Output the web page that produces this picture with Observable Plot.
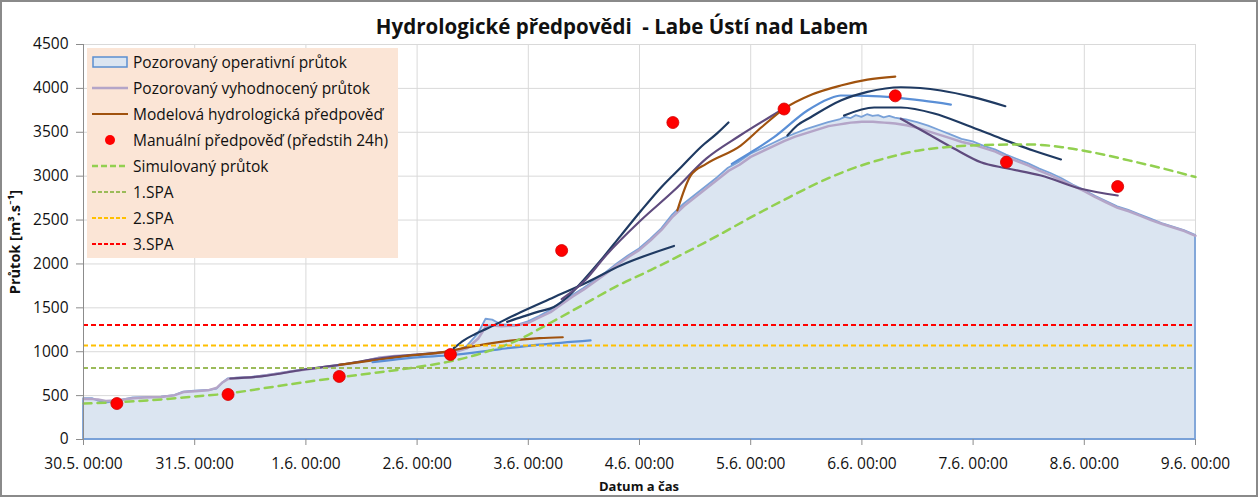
<!DOCTYPE html>
<html><head><meta charset="utf-8">
<script src="https://cdn.jsdelivr.net/npm/d3@7"></script>
<script src="https://cdn.jsdelivr.net/npm/@observablehq/plot@0.6"></script>
<style>
body{margin:0;background:#fff;font-family:"Open Sans",Lato,sans-serif;color:#111;}
#wrap{position:relative;width:1258px;height:497px;overflow:hidden;background:#fff;}
#chart{position:absolute;left:0;top:0;}
#frame{position:absolute;left:0;top:0;width:1258px;height:497px;box-sizing:border-box;border:2px solid #8a8a8a;pointer-events:none;}
#title{position:absolute;left:0;width:1244px;top:12px;text-align:center;font-weight:bold;font-size:20.5px;}
#ylab{position:absolute;left:14px;top:242px;transform:translate(-50%,-50%) rotate(-90deg);font-weight:bold;font-size:14.5px;white-space:nowrap;}
#xlab{position:absolute;left:639px;top:477px;transform:translateX(-50%);font-weight:bold;font-size:13px;white-space:nowrap;}
#legend{position:absolute;left:87px;top:48px;width:311px;height:210px;background:#fbe5d6;}
.li{position:absolute;left:4px;height:26px;display:flex;align-items:center;font-size:15.5px;white-space:nowrap;}
.li svg{margin-right:4px;}
</style></head>
<body>
<div id="wrap">
  <div id="chart"></div>
  <div id="title">Hydrologické předpovědi&nbsp; - Labe Ústí nad Labem</div>
  <div id="ylab">Průtok [m³.s⁻¹]</div>
  <div id="xlab">Datum a čas</div>
  <div id="legend"></div>
  <div id="frame"></div>
</div>
<script>
// ---------- data (x = days since 30.5. 00:00) ----------
const xLabels = ["30.5. 00:00","31.5. 00:00","1.6. 00:00","2.6. 00:00","3.6. 00:00","4.6. 00:00","5.6. 00:00","6.6. 00:00","7.6. 00:00","8.6. 00:00","9.6. 00:00"];
const xTicks = [0,1,2,3,4,5,6,7,8,9,10];
const yTicks = [0,500,1000,1500,2000,2500,3000,3500,4000,4500];

const obsDays = [0,0.08,0.13,0.2,0.28,0.36,0.45,0.55,0.7,0.82,0.9,1.0,1.12,1.2,1.25,1.3,1.38,1.5,1.7,1.9,2.1,2.3,2.5,2.65,2.8,3.0,3.2,3.35,3.45,3.55,3.62,3.68,3.76,3.9,4.0,4.1,4.2,4.3,4.4,4.5,4.6,4.7,4.8,4.9,5.0,5.1,5.2,5.3,5.4,5.5,5.6,5.7,5.8,5.9,6.0,6.1,6.2,6.3,6.4,6.5,6.6,6.7,6.8,6.85,6.9,6.95,7.0,7.05,7.1,7.15,7.2,7.25,7.3,7.4,7.5,7.6,7.7,7.8,7.9,8.0,8.1,8.2,8.3,8.4,8.5,8.6,8.7,8.8,8.9,9.0,9.1,9.2,9.3,9.4,9.5,9.6,9.7,9.8,9.9,10.0];
const obsOperative = [465,465,440,415,430,450,475,478,482,500,540,552,558,575,640,690,700,705,740,780,810,845,880,925,945,955,975,995,1060,1200,1370,1360,1305,1300,1340,1400,1470,1560,1640,1720,1810,1900,2000,2090,2170,2280,2400,2560,2680,2780,2880,2980,3090,3160,3250,3310,3370,3430,3480,3530,3570,3610,3640,3670,3655,3690,3670,3700,3680,3690,3665,3680,3660,3640,3610,3570,3520,3470,3420,3390,3340,3300,3240,3190,3140,3080,3030,2970,2900,2840,2770,2710,2650,2610,2560,2510,2460,2420,2380,2325];
const obsEvaluated = [460,460,455,440,445,455,470,478,485,505,540,550,560,590,650,690,700,705,740,780,815,850,885,930,950,965,985,1000,1040,1150,1290,1300,1290,1300,1330,1390,1450,1540,1630,1710,1800,1890,1990,2080,2160,2270,2390,2540,2660,2760,2860,2960,3060,3130,3220,3280,3340,3400,3450,3490,3530,3570,3590,3600,3610,3615,3620,3620,3620,3615,3610,3605,3600,3580,3550,3510,3470,3430,3390,3360,3320,3280,3220,3170,3120,3060,3010,2950,2890,2830,2760,2700,2640,2600,2550,2500,2455,2415,2375,2320];

const simDays = [0,0.3,0.7,1.0,1.3,1.6,2.0,2.5,3.0,3.3,3.6,3.9,4.2,4.5,4.8,5.1,5.4,5.7,6.0,6.3,6.6,6.9,7.2,7.5,7.8,8.1,8.5,8.8,9.1,9.4,9.7,10.0];
const simValues = [410,425,456,490,524,580,655,740,825,890,990,1130,1330,1540,1750,1930,2120,2320,2530,2730,2920,3080,3200,3290,3335,3355,3362,3330,3265,3180,3090,2990];

const manualDays = [0.3,1.3,2.3,3.3,4.3,5.3,6.3,7.3,8.3,9.3];
const manualValues = [410,513,718,968,2153,3611,3765,3915,3160,2882];

const spaLevels = [815,1070,1305];

// model forecasts [day, value]
const fcPurple1 = [[1.32,695],[1.6,720],[2.0,800],[2.3,850],[2.7,930],[3.0,968],[3.27,1000]];
const fcBrown1  = [[2.3,850],[2.6,900],[2.9,950],[3.2,990],[3.5,1060],[3.8,1120],[4.1,1155],[4.31,1165]];
const fcBlue1   = [[2.6,880],[3.0,935],[3.3,960],[3.75,1030],[4.1,1080],[4.56,1130]];
const fcNavyA   = [[3.33,1040],[3.42,1130],[3.52,1200],[3.63,1265],[3.93,1450],[4.23,1621],[4.53,1792],[4.83,1982],[5.31,2205]];
const fcNavyB   = [[3.81,1340],[3.95,1400],[4.1,1460],[4.23,1510],[4.35,1621],[4.5,1820],[4.65,2039],[4.83,2320],[5.01,2600],[5.2,2880],[5.38,3110],[5.55,3330],[5.7,3490],[5.8,3611]];
const fcPurple2 = [[4.3,1600],[4.5,1800],[4.7,2100],[5.01,2495],[5.31,2836],[5.6,3200],[5.9,3460],[6.27,3748]];
const fcBrown2  = [[5.34,2609],[5.46,3007],[5.6,3140],[5.91,3349],[6.1,3560],[6.3,3767],[6.55,3930],[6.81,4033],[7.05,4100],[7.3,4135]];
const fcBlue2   = [[5.83,3140],[6.0,3270],[6.21,3444],[6.51,3748],[6.7,3880],[6.81,3919],[7.05,3915],[7.3,3895],[7.55,3860],[7.8,3816]];
const fcNavyC   = [[6.33,3463],[6.42,3580],[6.54,3672],[6.81,3862],[7.05,3960],[7.35,4013],[7.71,3976],[8.0,3900],[8.29,3797]];
const fcNavyD   = [[6.84,3691],[7.11,3782],[7.35,3782],[7.65,3714],[7.95,3577],[8.25,3429],[8.54,3292],[8.79,3190]];
const fcPurple3 = [[7.35,3655],[7.62,3463],[7.85,3300],[8.07,3159],[8.3,3090],[8.61,3008],[8.97,2856],[9.3,2780]];

// ---------- styles ----------
const C = {
  areaFill:"#dbe5f1", areaStroke:"#79a1d8", evaluated:"#b4a5c8",
  navy:"#1f3a62", purple:"#5f4b7e", brown:"#a0520e", blue:"#5a8fd6",
  manual:"#ff0000", sim:"#92d050", spa1:"#9bbb59", spa2:"#ffc000", spa3:"#ff0000", grid:"#d9d9d9", axis:"#8c8c8c"
};
const forecasts = [
  [fcPurple1,C.purple],[fcBrown1,C.brown],[fcBlue1,C.blue],
  [fcNavyA,C.navy],[fcNavyB,C.navy],[fcPurple2,C.purple],[fcBrown2,C.brown],
  [fcBlue2,C.blue],[fcNavyC,C.navy],[fcNavyD,C.navy],[fcPurple3,C.purple]
];

const obs = obsDays.map((d,i)=>({d, op:obsOperative[i], ev:obsEvaluated[i]}));
const sim = simDays.map((d,i)=>({d, v:simValues[i]}));
const manual = manualDays.map((d,i)=>({d, v:manualValues[i]}));
const spaColors = [C.spa1,C.spa2,C.spa3];

const marks = [
  Plot.gridY(yTicks,{stroke:C.grid,strokeOpacity:1}),
  Plot.gridX(xTicks,{stroke:C.grid,strokeOpacity:1}),
  Plot.areaY(obs,{x:"d",y:"op",fill:C.areaFill,stroke:C.areaStroke,strokeWidth:1.8,curve:"linear"}),
  Plot.line(obs,{x:"d",y:"ev",stroke:C.evaluated,strokeWidth:2.5}),
  ...forecasts.map(([arr,col])=>Plot.line(arr,{x:a=>a[0],y:a=>a[1],stroke:col,strokeWidth:2.2,curve:"monotone-x"})),
  Plot.line(sim,{x:"d",y:"v",stroke:C.sim,strokeWidth:2.5,strokeDasharray:"8,6",curve:"monotone-x"}),
  ...spaLevels.map((v,i)=>Plot.ruleY([v],{x1:0,x2:10,stroke:spaColors[i],strokeWidth:2,strokeDasharray:"5,3"})),
  Plot.dot(manual,{x:"d",y:"v",r:6,fill:C.manual,stroke:"#d00000",strokeWidth:0.8}),
  Plot.ruleX([0],{stroke:C.axis}),
  Plot.axisY(yTicks,{tickSize:7,tickPadding:8,label:null,stroke:C.axis,tickFormat:d=>String(d)}),
  Plot.axisX(xTicks,{tickSize:6,tickPadding:12,label:null,stroke:C.axis,tickFormat:d=>xLabels[d]})
];

const chart = Plot.plot({
  width:1258, height:497, marginTop:44, marginBottom:58, marginLeft:83, marginRight:63,
  style:{fontFamily:"'Open Sans', Lato, sans-serif", fontSize:"15.5px", color:"#111", background:"transparent"},
  x:{domain:[0,10]}, y:{domain:[0,4500]},
  marks
});
document.getElementById("chart").appendChild(chart);

// ---------- legend ----------
const legendItems = [
  ["Pozorovaný operativní průtok","area"],
  ["Pozorovaný vyhodnocený průtok","line",C.evaluated,null,2.5],
  ["Modelová hydrologická předpověď","line",C.brown,null,2.2],
  ["Manuální předpověď (předstih 24h)","dot",C.manual],
  ["Simulovaný průtok","line",C.sim,"6,3",2.5],
  ["1.SPA","line",C.spa1,"4,2",2],
  ["2.SPA","line",C.spa2,"4,2",2],
  ["3.SPA","line",C.spa3,"4,2",2]
];
const lg = document.getElementById("legend");
legendItems.forEach((it,i)=>{
  const div = document.createElement("div");
  div.className="li"; div.style.top=(1+i*26)+"px";
  let sym;
  if(it[1]==="area") sym=`<rect x="2" y="3" width="34" height="10" fill="${C.areaFill}" stroke="#5b8fd1" stroke-width="1.5"/>`;
  else if(it[1]==="dot") sym=`<circle cx="19" cy="8" r="5" fill="${it[2]}"/>`;
  else sym=`<line x1="1" x2="37" y1="8" y2="8" stroke="${it[2]}" stroke-width="${it[4]}" ${it[3]?`stroke-dasharray="${it[3]}"`:""}/>`;
  div.innerHTML=`<svg width="38" height="16">${sym}</svg><span>${it[0]}</span>`;
  lg.appendChild(div);
});
</script>
</body></html>
